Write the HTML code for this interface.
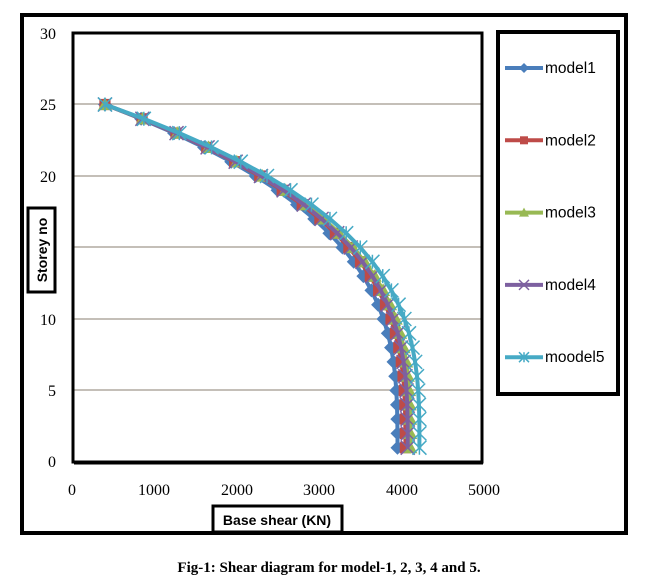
<!DOCTYPE html>
<html><head><meta charset="utf-8"><style>
body{margin:0;background:#fff;width:658px;height:584px;overflow:hidden}
svg{display:block}
</style></head><body>
<svg id="s" width="658" height="584" xmlns="http://www.w3.org/2000/svg" font-family="Liberation Serif, serif">
<rect x="22" y="15" width="604" height="518" fill="none" stroke="#000" stroke-width="4"/>
<g stroke="#8a7f70" stroke-width="1">
<line x1="74" x2="481" y1="104" y2="104"/><line x1="74" x2="481" y1="176" y2="176"/>
<line x1="74" x2="481" y1="247" y2="247"/><line x1="74" x2="481" y1="319" y2="319"/>
<line x1="74" x2="481" y1="390" y2="390"/>
</g>
<g id="series"></g>
<rect x="73" y="33" width="409" height="429" fill="none" stroke="#000" stroke-width="3"/>
<line x1="74" y1="464" x2="483" y2="464" stroke="#000" stroke-width="1"/>
<g font-size="16" text-anchor="end">
<text x="56" y="39">30</text><text x="56" y="110">25</text><text x="56" y="182">20</text>
<text x="56" y="253">15</text><text x="56" y="325">10</text><text x="56" y="396">5</text><text x="56" y="467">0</text>
</g>
<g font-size="16" text-anchor="middle">
<text x="72" y="495">0</text><text x="154" y="495">1000</text><text x="237" y="495">2000</text>
<text x="319" y="495">3000</text><text x="402" y="495">4000</text><text x="484" y="495">5000</text>
</g>
<rect x="213" y="506" width="129" height="26" fill="#fff" stroke="#000" stroke-width="3"/>
<text x="277" y="525" font-family="Liberation Sans, sans-serif" font-weight="bold" font-size="14" text-anchor="middle">Base shear (KN)</text>
<rect x="28" y="208" width="27" height="84" fill="#fff" stroke="#000" stroke-width="3"/>
<text transform="translate(47,250) rotate(-90)" font-family="Liberation Sans, sans-serif" font-weight="bold" font-size="14" text-anchor="middle">Storey no</text>
<rect x="498" y="32" width="120" height="362" fill="#fff" stroke="#000" stroke-width="4"/>
<g id="leg" font-family="Liberation Sans, sans-serif" font-size="15.5"></g>
<text x="329" y="572" font-weight="bold" font-size="15" text-anchor="middle">Fig-1: Shear diagram for model-1, 2, 3, 4 and 5.</text>
</svg>
<script>
var cols=["#4a7ebb","#be4b48","#98b954","#7d60a0","#46aac5"];
var f=[1,1.027,1.044,1.035,1.075];
var names=["model1","model2","model3","model4","moodel5"];
function X(v){return 72+v*0.0824;}
function Y(s){return 462-s*14.3;}
function marker(k,x,y,sz){
 var c=cols[k],h=sz;
 if(k==0)return '<polygon points="'+x+','+(y-h)+' '+(x+h)+','+y+' '+x+','+(y+h)+' '+(x-h)+','+y+'" fill="'+c+'"/>';
 if(k==1)return '<rect x="'+(x-h*0.8)+'" y="'+(y-h*0.8)+'" width="'+(h*1.6)+'" height="'+(h*1.6)+'" fill="'+c+'"/>';
 if(k==2)return '<polygon points="'+x+','+(y-h)+' '+(x+h)+','+(y+h*0.8)+' '+(x-h)+','+(y+h*0.8)+'" fill="'+c+'"/>';
 if(k==3)return '<path d="M'+(x-h)+','+(y-h)+'L'+(x+h)+','+(y+h)+'M'+(x-h)+','+(y+h)+'L'+(x+h)+','+(y-h)+'" stroke="'+c+'" stroke-width="1.5"/>';
 return '<path d="M'+(x-h)+','+(y-h)+'L'+(x+h)+','+(y+h)+'M'+(x-h)+','+(y+h)+'L'+(x+h)+','+(y-h)+'M'+x+','+(y-h)+'L'+x+','+(y+h)+'" stroke="'+c+'" stroke-width="1.5"/>';
}
var g="";
for(var k=0;k<5;k++){
 var pts=[],mk="";
 for(var s=1;s<=25;s++){
  var t=(s-1)/24;var b=3550*(1-Math.pow(t,3.1));
  var v=400+b*f[k];var x=X(v),y=Y(s);
  pts.push(x.toFixed(1)+","+y.toFixed(1));mk+=marker(k,x,y,7);
 }
 g+='<polyline points="'+pts.join(" ")+'" fill="none" stroke="'+cols[k]+'" stroke-width="4"/>'+mk;
}
document.getElementById("series").innerHTML=g;
var l="";
for(var k=0;k<5;k++){var y=68+k*72.3;
 l+='<line x1="505" x2="543" y1="'+y+'" y2="'+y+'" stroke="'+cols[k]+'" stroke-width="4"/>'+marker(k,524,y,5)+'<text x="545" y="'+(y+5)+'">'+names[k]+'</text>';}
document.getElementById("leg").innerHTML=l;
</script>
</body></html>
